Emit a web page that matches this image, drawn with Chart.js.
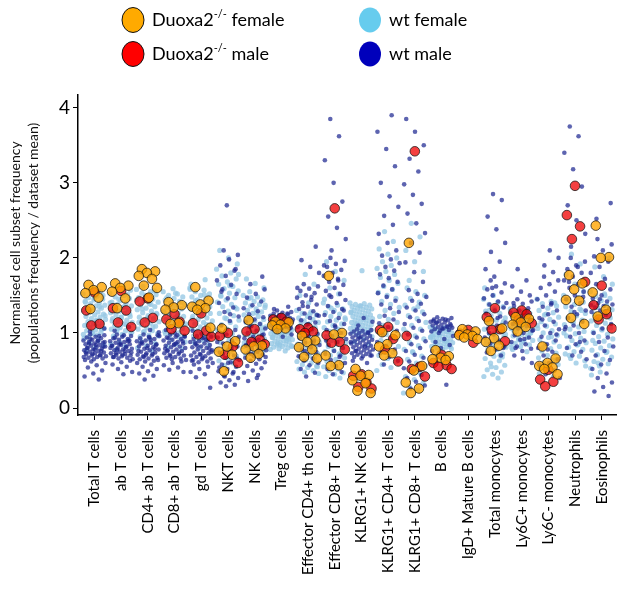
<!DOCTYPE html>
<html>
<head>
<meta charset="utf-8">
<script src="https://cdn.jsdelivr.net/npm/chart.js@4.4.1/dist/chart.umd.min.js"></script>
<style>
    body { margin: 0; background: #fff; }
    #wrap { width: 630px; height: 597px; }
</style>
</head>
<body>
<div id="wrap"><canvas id="subset-chart" width="630" height="597"></canvas></div>
<script>
// cell populations on the x axis
var cellTypes = ['Total T cells', 'ab T cells', 'CD4+ ab T cells', 'CD8+ ab T cells', 'gd T cells',
    'NKT cells', 'NK cells', 'Treg cells', 'Effector CD4+ th cells', 'Effector CD8+ T cells',
    'KLRG1+ NK cells', 'KLRG1+ CD4+ T cells', 'KLRG1+ CD8+ T cells', 'B cells', 'IgD+ Mature B cells',
    'Total monocytes', 'Ly6C+ monocytes', 'Ly6C- monocytes', 'Neutrophils', 'Eosinophils'];

var yTicks = [0, 1, 2, 3, 4];

// all frequencies below are x100 (normalised to dataset mean), one row per population
var duoFemale = [
    [164, 161, 157, 153, 147, 132],
    [166, 163, 160, 155, 146, 133],
    [185, 182, 180, 176, 172, 163, 160, 147],
    [141, 137, 134, 131, 113, 112],
    [161, 143, 138, 135, 133, 131, 107],
    [106, 89, 82, 75, 71, 49],
    [117, 83, 82, 78, 72, 67],
    [115, 114, 111, 110, 106, 105],
    [96, 90, 88, 81, 78, 68, 66],
    [176, 100, 98, 70, 57, 56],
    [52, 44, 43, 37, 33, 23, 20],
    [101, 97, 85, 82, 73, 70],
    [220, 56, 50, 34, 26, 20],
    [77, 69, 67, 65, 64],
    [105, 102, 98, 97, 96, 94, 92],
    [116, 106, 93, 88, 83, 76],
    [121, 119, 114, 111, 108, 102],
    [82, 66, 60, 56, 54, 52, 45],
    [177, 166, 158, 144, 143, 120, 112],
    [243, 201, 200, 154, 131, 122]
];

var duoMale = [
    [154, 130, 112, 110],
    [156, 133, 130, 114, 108],
    [146, 142, 120, 114],
    [125, 118, 115, 105, 103],
    [126, 113, 103, 98, 95],
    [100, 96, 82, 71, 60],
    [105, 102, 91, 88, 85],
    [120, 118, 115, 112],
    [107, 105, 102, 100],
    [266, 97, 88, 87, 78],
    [45, 43, 34, 28, 26],
    [108, 104, 92, 78, 62],
    [342, 96, 55, 52, 42],
    [71, 60, 57, 55, 52],
    [104, 99, 87],
    [133, 121, 105, 104, 89],
    [130, 127, 125, 117, 113],
    [51, 38, 35, 29],
    [296, 257, 242, 225, 168],
    [163, 137, 125, 118, 106]
];

var wtFemale = [
    [152, 149, 147, 145, 144, 142, 140, 139, 137, 136, 134, 133, 131, 130, 128, 127, 125, 124, 122, 121, 119, 118, 116, 115, 113, 112, 110, 109, 107, 106, 104, 103, 101, 100, 98, 97, 95, 150, 146, 141, 135, 129, 123, 117, 111, 105, 99, 93, 90, 87, 84, 80, 77, 155, 158],
    [153, 150, 148, 146, 143, 141, 139, 138, 136, 134, 132, 131, 129, 127, 126, 124, 122, 120, 119, 117, 115, 114, 112, 110, 108, 107, 105, 103, 102, 100, 98, 96, 151, 145, 140, 135, 130, 125, 121, 116, 111, 106, 101, 97, 94, 91, 88, 85, 82, 78, 157],
    [158, 155, 153, 151, 149, 147, 145, 143, 141, 139, 137, 135, 133, 131, 129, 127, 125, 123, 121, 119, 117, 115, 113, 111, 109, 107, 105, 103, 101, 99, 97, 95, 156, 150, 144, 138, 132, 126, 120, 114, 108, 102, 96, 92, 89, 86, 83, 80, 76, 162],
    [155, 152, 150, 148, 146, 144, 142, 140, 138, 136, 134, 132, 130, 128, 126, 124, 122, 120, 118, 116, 114, 112, 110, 108, 106, 104, 102, 100, 98, 96, 153, 147, 141, 135, 129, 123, 117, 111, 105, 99, 94, 91, 88, 85, 82, 79, 159],
    [160, 157, 155, 152, 150, 148, 146, 144, 142, 140, 138, 136, 134, 132, 130, 128, 126, 124, 122, 120, 118, 116, 114, 112, 110, 108, 106, 104, 102, 100, 98, 96, 94, 92, 158, 151, 143, 135, 127, 119, 111, 103, 97, 90, 87, 84, 80, 165, 171],
    [185, 180, 176, 172, 168, 165, 162, 159, 156, 153, 150, 147, 144, 141, 138, 135, 132, 129, 126, 123, 120, 117, 114, 111, 108, 105, 102, 99, 96, 93, 90, 87, 84, 81, 78, 75, 72, 69, 66, 63, 60, 57, 178, 163, 149, 134, 119, 104, 89, 74, 192, 200, 210],
    [150, 148, 146, 144, 142, 140, 138, 136, 134, 132, 130, 128, 126, 124, 122, 120, 118, 116, 114, 112, 110, 108, 106, 104, 102, 100, 98, 96, 94, 92, 90, 88, 86, 84, 82, 80, 78, 76, 74, 72, 70, 147, 137, 127, 117, 107, 97, 87, 77, 155, 160, 166, 172],
    [112, 111, 110, 109, 108, 107, 106, 105, 104, 103, 102, 101, 100, 99, 98, 97, 96, 95, 94, 93, 92, 91, 90, 89, 88, 87, 86, 85, 84, 83, 82, 81, 80, 79, 78, 110, 106, 102, 98, 94, 90, 86, 82, 108, 100, 92, 84, 115, 76],
    [130, 128, 126, 124, 122, 120, 118, 116, 114, 112, 110, 108, 106, 104, 102, 100, 98, 96, 94, 92, 90, 88, 86, 84, 82, 80, 78, 76, 74, 72, 70, 68, 66, 64, 62, 60, 58, 56, 54, 52, 50, 48, 46, 125, 115, 105, 95, 85, 75, 65, 55, 140, 150, 165, 178],
    [140, 137, 135, 132, 130, 127, 125, 122, 120, 117, 115, 112, 110, 107, 105, 102, 100, 97, 95, 92, 90, 87, 85, 82, 80, 77, 75, 72, 70, 67, 65, 62, 60, 57, 55, 52, 50, 47, 45, 42, 40, 133, 118, 103, 88, 73, 58, 145, 152, 160, 170, 182, 195],
    [140, 139, 138, 137, 136, 135, 134, 133, 132, 131, 130, 129, 128, 127, 126, 125, 124, 123, 122, 121, 120, 119, 118, 117, 116, 115, 114, 113, 112, 111, 110, 109, 108, 107, 106, 105, 104, 103, 102, 101, 100, 98, 95, 92, 88, 85, 136, 128, 120, 112, 104, 183],
    [50, 54, 58, 62, 66, 70, 74, 78, 82, 86, 90, 94, 98, 102, 106, 110, 114, 118, 122, 126, 130, 134, 138, 142, 146, 150, 154, 158, 162, 166, 170, 174, 178, 182, 186, 190, 195, 200, 205, 212, 222, 235],
    [20, 24, 29, 33, 38, 42, 47, 51, 56, 60, 65, 69, 74, 78, 83, 87, 92, 96, 101, 105, 110, 114, 119, 123, 128, 132, 137, 141, 146, 150, 155, 160, 45, 75, 105, 135, 170, 182, 195, 210, 228, 246],
    [108, 107, 106, 105, 104, 103, 102, 101, 100, 99, 98, 97, 96, 95, 94, 93, 92, 91, 90, 89, 88, 87, 86, 85, 84, 83, 82, 81, 80, 79, 78, 106, 102, 98, 94, 90, 86, 82, 104, 96, 88],
    [],
    [145, 141, 138, 135, 132, 129, 126, 123, 120, 117, 114, 111, 108, 105, 102, 99, 96, 93, 90, 87, 84, 81, 78, 75, 72, 69, 66, 63, 60, 57, 54, 51, 48, 45, 42, 40, 130, 115, 100, 85, 70, 55, 98, 88, 78, 68, 150, 160],
    [132, 130, 128, 126, 124, 122, 120, 118, 116, 114, 112, 110, 108, 106, 104, 102, 100, 98, 96, 94, 92, 90, 88, 86, 84, 82, 80, 127, 121, 115, 109, 103, 97, 91, 85, 124, 112, 100, 88, 78, 75],
    [145, 142, 139, 136, 133, 130, 127, 124, 121, 118, 115, 112, 109, 106, 103, 100, 97, 94, 91, 88, 85, 82, 79, 76, 73, 70, 67, 64, 61, 58, 55, 52, 140, 125, 110, 95, 80, 65, 50, 46, 42],
    [150, 147, 144, 141, 138, 135, 132, 129, 126, 123, 120, 117, 114, 111, 108, 105, 102, 99, 96, 93, 90, 87, 84, 81, 78, 75, 72, 69, 66, 63, 60, 145, 130, 115, 100, 85, 70, 155, 165, 178, 192, 205, 56],
    [155, 152, 149, 146, 143, 140, 137, 134, 131, 128, 125, 122, 119, 116, 113, 110, 107, 104, 101, 98, 95, 92, 89, 86, 83, 80, 77, 74, 71, 68, 65, 62, 59, 56, 53, 150, 135, 120, 105, 90, 75, 60, 165, 175, 188, 200, 48, 44]
];

var wtMale = [
    [98, 97, 95, 94, 93, 91, 90, 89, 88, 87, 86, 85, 84, 83, 82, 81, 80, 79, 78, 77, 76, 75, 74, 73, 72, 71, 70, 69, 68, 67, 66, 65, 64, 96, 92, 88, 84, 80, 76, 72, 68, 90, 86, 82, 78, 74, 70, 62, 60, 57, 54, 50, 46, 42, 38, 102, 106],
    [98, 96, 95, 93, 92, 91, 89, 88, 87, 85, 84, 83, 82, 80, 79, 78, 77, 76, 75, 73, 72, 71, 70, 69, 68, 67, 66, 65, 97, 94, 90, 86, 83, 81, 78, 74, 71, 68, 89, 85, 80, 76, 73, 63, 61, 58, 55, 52, 48, 45, 103, 108],
    [98, 97, 95, 93, 92, 90, 89, 87, 86, 85, 83, 82, 81, 79, 78, 77, 75, 74, 73, 71, 70, 69, 67, 66, 65, 63, 62, 96, 91, 88, 84, 80, 76, 72, 68, 64, 94, 86, 79, 71, 60, 58, 55, 52, 49, 46, 43, 38, 101, 104],
    [98, 96, 95, 94, 92, 91, 90, 88, 87, 86, 85, 83, 82, 81, 80, 78, 77, 76, 75, 73, 72, 71, 70, 68, 67, 66, 65, 64, 97, 93, 89, 84, 79, 74, 69, 95, 86, 76, 62, 60, 57, 54, 51, 48, 100, 104],
    [96, 95, 93, 92, 90, 89, 88, 86, 85, 84, 82, 81, 80, 78, 77, 76, 74, 73, 72, 70, 69, 68, 66, 65, 64, 62, 61, 60, 94, 87, 79, 71, 63, 91, 83, 75, 67, 58, 55, 52, 48, 45, 41, 27, 99, 103],
    [210, 204, 198, 190, 183, 176, 170, 164, 158, 152, 146, 140, 134, 128, 122, 116, 110, 104, 98, 94, 90, 86, 82, 78, 74, 70, 67, 64, 61, 58, 55, 52, 49, 46, 43, 40, 37, 34, 31, 29, 88, 80, 72, 66, 60, 54, 48, 42, 95, 125, 155, 185, 270],
    [165, 158, 152, 147, 142, 137, 133, 129, 125, 121, 118, 115, 112, 109, 106, 103, 100, 97, 95, 93, 91, 89, 87, 85, 83, 81, 79, 77, 75, 73, 71, 69, 67, 65, 63, 61, 59, 56, 53, 50, 47, 44, 108, 98, 90, 84, 78, 72, 68, 40, 36, 175],
    [130, 128, 127, 126, 125, 124, 123, 122, 121, 120, 119, 118, 117, 116, 115, 114, 113, 112, 111, 110, 109, 108, 107, 106, 105, 126, 122, 118, 114, 110, 106, 124, 116, 108, 102, 98, 95, 132, 135],
    [165, 162, 159, 156, 153, 150, 147, 144, 141, 138, 135, 132, 129, 126, 123, 120, 117, 114, 111, 108, 105, 102, 99, 96, 93, 90, 87, 84, 81, 78, 75, 72, 69, 66, 63, 60, 57, 52, 47, 42, 160, 148, 136, 124, 112, 100, 88, 76, 180, 188, 197, 215],
    [200, 196, 192, 188, 184, 180, 176, 172, 168, 164, 160, 156, 152, 148, 144, 140, 136, 132, 128, 124, 120, 116, 112, 108, 104, 100, 96, 92, 88, 84, 80, 76, 72, 68, 64, 60, 56, 52, 48, 45, 190, 170, 150, 130, 110, 90, 70, 210, 225, 240, 255, 275, 300, 330, 362, 385],
    [105, 104, 103, 102, 101, 100, 99, 98, 97, 96, 95, 94, 93, 92, 91, 90, 89, 88, 87, 86, 85, 84, 83, 82, 81, 80, 79, 78, 77, 76, 75, 74, 73, 72, 71, 70, 69, 68, 100, 94, 88, 82, 76, 70, 66, 63, 60, 110, 115, 120],
    [58, 63, 68, 73, 78, 83, 88, 93, 98, 103, 108, 113, 118, 123, 128, 133, 138, 143, 148, 153, 158, 163, 168, 173, 178, 183, 188, 193, 198, 203, 210, 220, 232, 244, 256, 268, 282, 300, 322, 345, 368, 390],
    [26, 30, 35, 40, 44, 49, 53, 58, 62, 67, 71, 76, 80, 85, 89, 94, 98, 103, 107, 112, 116, 121, 125, 130, 134, 139, 143, 148, 152, 157, 168, 181, 194, 207, 220, 233, 246, 259, 272, 284, 298, 315, 332, 350, 368, 385],
    [121, 120, 119, 118, 117, 116, 115, 114, 113, 112, 111, 110, 109, 108, 107, 106, 105, 104, 103, 102, 118, 114, 110, 106, 116, 108, 100, 96, 92, 88, 84, 80, 76, 31],
    [],
    [170, 166, 162, 158, 154, 150, 146, 142, 138, 134, 130, 126, 122, 118, 114, 110, 106, 102, 98, 94, 90, 86, 82, 78, 74, 70, 160, 140, 120, 100, 80, 175, 185, 195, 208, 220, 238, 255, 277, 285],
    [145, 142, 139, 136, 133, 130, 127, 124, 121, 118, 115, 112, 109, 106, 103, 100, 97, 94, 91, 88, 85, 82, 79, 76, 140, 128, 116, 104, 92, 80, 150, 155, 162, 170, 185, 60, 66, 70],
    [175, 170, 165, 160, 155, 150, 145, 140, 135, 130, 125, 120, 115, 110, 105, 100, 95, 90, 85, 80, 75, 70, 65, 60, 55, 50, 45, 40, 138, 118, 98, 78, 58, 181, 190, 200, 210],
    [200, 195, 190, 185, 180, 175, 170, 165, 160, 155, 150, 145, 140, 135, 130, 125, 120, 115, 110, 105, 100, 95, 90, 85, 80, 75, 70, 65, 188, 168, 148, 128, 108, 88, 215, 232, 250, 270, 295, 318, 340, 362, 375],
    [225, 218, 210, 202, 195, 188, 180, 172, 165, 158, 150, 146, 142, 140, 138, 136, 134, 132, 130, 128, 124, 118, 112, 106, 100, 94, 88, 82, 76, 70, 64, 58, 52, 46, 40, 34, 28, 22, 16, 145, 137, 129, 252, 273]
];

// spread the values of each population sideways inside its column
function stripPoints(rows, spread, phase) {
    var pts = [];
    rows.forEach(function (vals, i) {
        vals.forEach(function (v, k) {
            var off = (((k + phase) * 0.6180339887) % 1) - 0.5;
            pts.push({x: i + off * spread, y: v / 100});
        });
    });
    return pts;
}

// y axis title and the four-entry key at the top
var decorations = {
    id: 'decorations',
    afterDraw: function (chart) {
        var ctx = chart.ctx;
        ctx.save();

        ctx.fillStyle = '#111';
        ctx.font = '14px Lato';
        ctx.textAlign = 'center';
        ctx.textBaseline = 'middle';
        ctx.translate(24, 243);
        ctx.rotate(-Math.PI / 2);
        ctx.fillText('Normalised cell subset frequency', 0, -9);
        ctx.fillText('(populations frequency / dataset mean)', 0, 9);
        ctx.restore();

        var keys = [
            {x: 133, y: 20, fill: '#FFAA00', edge: true, main: 'Duoxa2', sup: '-/-', tail: ' female'},
            {x: 133, y: 54, fill: '#FF0000', edge: true, main: 'Duoxa2', sup: '-/-', tail: ' male'},
            {x: 370, y: 20, fill: '#66CCEE', edge: false, main: 'wt female', sup: '', tail: ''},
            {x: 370, y: 54, fill: '#0000BB', edge: false, main: 'wt male', sup: '', tail: ''}
        ];
        ctx.save();
        keys.forEach(function (k) {
            ctx.beginPath();
            ctx.ellipse(k.x, k.y, 11, 12.5, 0, 0, Math.PI * 2);
            ctx.fillStyle = k.fill;
            ctx.fill();
            if (k.edge) {
                ctx.lineWidth = 1;
                ctx.strokeStyle = '#111';
                ctx.stroke();
            }
            var tx = k.x + 19;
            var base = k.y + 3 + 3;
            ctx.fillStyle = '#000';
            ctx.textAlign = 'left';
            ctx.textBaseline = 'alphabetic';
            ctx.font = '18px Lato';
            ctx.fillText(k.main, tx, base);
            tx += ctx.measureText(k.main).width;
            if (k.sup) {
                ctx.font = '11px Lato';
                ctx.fillText(k.sup, tx, base - 8);
                tx += ctx.measureText(k.sup).width;
                ctx.font = '18px Lato';
                ctx.fillText(k.tail, tx, base);
            }
        });
        ctx.restore();
    }
};

Chart.defaults.font.family = 'Lato';
Chart.defaults.color = '#000';

var subsetChart = new Chart(document.getElementById('subset-chart'), {
    type: 'scatter',
    data: {
        datasets: [
            {
                label: 'Duoxa2-/- female',
                data: stripPoints(duoFemale, 0.8, 0.35),
                backgroundColor: 'rgba(255,165,0,0.8)',
                borderColor: 'rgba(20,20,20,0.75)',
                borderWidth: 1,
                pointRadius: 4.8
            },
            {
                label: 'Duoxa2-/- male',
                data: stripPoints(duoMale, 0.8, 0.8),
                backgroundColor: 'rgba(240,0,0,0.75)',
                borderColor: 'rgba(20,20,20,0.75)',
                borderWidth: 1,
                pointRadius: 4.8
            },
            {
                label: 'wt male',
                data: stripPoints(wtMale, 0.86, 0.5),
                backgroundColor: 'rgba(30,40,145,0.72)',
                borderWidth: 0,
                pointRadius: 2.3
            },
            {
                label: 'wt female',
                data: stripPoints(wtFemale, 0.86, 0),
                backgroundColor: 'rgba(150,200,228,0.78)',
                borderWidth: 0,
                pointRadius: 2.6
            }
        ]
    },
    options: {
        responsive: false,
        animation: false,
        layout: {padding: {top: 95, left: 0, right: 0, bottom: 0}},
        plugins: {
            legend: {display: false},
            tooltip: {enabled: false}
        },
        scales: {
            x: {
                type: 'linear',
                min: -0.62,
                max: 19.55,
                afterBuildTicks: function (scale) {
                    scale.ticks = cellTypes.map(function (c, i) { return {value: i}; });
                },
                afterFit: function (scale) { scale.height = 182; },
                border: {display: true, color: '#000', width: 1.5},
                grid: {drawOnChartArea: false, drawTicks: true, tickLength: 5, color: '#000'},
                ticks: {
                    autoSkip: false,
                    minRotation: 90,
                    maxRotation: 90,
                    padding: 10,
                    font: {size: 15},
                    color: '#000',
                    callback: function (value) { return cellTypes[value]; }
                }
            },
            y: {
                min: -0.093,
                max: 4.17,
                afterBuildTicks: function (scale) {
                    scale.ticks = yTicks.map(function (v) { return {value: v}; });
                },
                afterFit: function (scale) { scale.width = 78; },
                border: {display: true, color: '#000', width: 1.5},
                grid: {drawOnChartArea: false, drawTicks: true, tickLength: 5, color: '#000'},
                ticks: {
                    padding: 3,
                    font: {size: 19},
                    color: '#000'
                }
            }
        }
    },
    plugins: [decorations]
});
</script>
</body>
</html>
